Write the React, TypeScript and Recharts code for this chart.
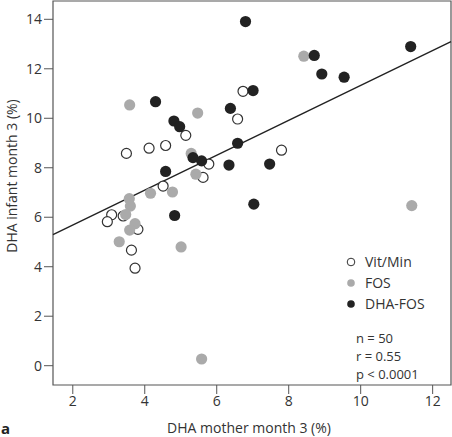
import {
  ScatterChart,
  Scatter,
  XAxis,
  YAxis,
  ReferenceLine,
  ReferenceArea,
  Legend,
} from "recharts";

const FONT = '"Open Sans", sans-serif';
const INK = "#333";
const FRAME = "#555";

// group values (DHA mother vs DHA infant, month 3, %)
const vitMinX = [6.73, 6.58, 5.14, 3.49, 4.12, 4.58, 5.78, 5.62, 4.51, 3.08, 2.96, 3.4, 3.81, 3.63, 3.73, 7.8];
const vitMinY = [11.09, 9.97, 9.31, 8.58, 8.79, 8.9, 8.15, 7.61, 7.26, 6.1, 5.82, 6.05, 5.51, 4.67, 3.94, 8.71];

const fosX = [3.58, 5.47, 5.29, 5.42, 4.16, 4.77, 8.42, 11.42, 3.57, 3.6, 3.47, 3.73, 3.58, 3.29, 5.01, 5.58];
const fosY = [10.54, 10.21, 8.58, 7.74, 6.97, 7.02, 12.51, 6.47, 6.75, 6.45, 6.11, 5.74, 5.48, 5.01, 4.8, 0.27];

const dhaFosX = [6.8, 7.01, 4.3, 6.38, 4.81, 4.97, 6.58, 5.34, 5.58, 6.34, 4.58, 8.71, 8.92, 9.54, 11.39, 7.47, 7.03, 4.83];
const dhaFosY = [13.91, 11.12, 10.67, 10.4, 9.89, 9.66, 8.99, 8.41, 8.28, 8.11, 7.85, 12.54, 11.79, 11.66, 12.9, 8.15, 6.53, 6.07];

const groupNames = ["Vit/Min", "FOS", "DHA-FOS"];
const xTicks = [2, 4, 6, 8, 10, 12];
const yTicks = [0, 2, 4, 6, 8, 10, 12, 14];
const xDomain = [1.45, 12.51];
const yDomain = [-0.78, 14.74];

// regression line
const fitIntercept = 4.27;
const fitSlope = 0.706;

const stats = ["n = 50", "r = 0.55", "p < 0.0001"];

const zip = (xs: number[], ys: number[]) => xs.map((x, i) => ({ x, y: ys[i] }));

const vitMin = zip(vitMinX, vitMinY);
const fos = zip(fosX, fosY);
const dhaFos = zip(dhaFosX, dhaFosY);

const styles: Record<string, { fill: string; stroke: string }> = {
  "Vit/Min": { fill: "#fff", stroke: "#333" },
  FOS: { fill: "#aaa", stroke: "none" },
  "DHA-FOS": { fill: "#222", stroke: "none" },
};

const dot = (name: string) => (props: any) => (
  <circle
    cx={props.cx}
    cy={props.cy}
    r={name === "Vit/Min" ? 5 : 5.6}
    fill={styles[name].fill}
    stroke={styles[name].stroke}
    strokeWidth={1.2}
  />
);

const LegendBox = (props: any) => {
  const items = groupNames.filter((n) =>
    (props.payload || []).some((p: any) => p.value === n)
  );
  return (
    <div style={{ fontFamily: FONT, fontSize: 14, color: INK }}>
      {items.map((name) => (
        <div
          key={name}
          style={{ display: "flex", alignItems: "center", height: 21 }}
        >
          <svg width={10} height={10} style={{ marginRight: 9 }}>
            <circle
              cx={5}
              cy={5}
              r={3.8}
              fill={styles[name].fill}
              stroke={styles[name].stroke}
              strokeWidth={1}
            />
          </svg>
          {name}
        </div>
      ))}
    </div>
  );
};

const tickStyle = { fontFamily: FONT, fontSize: 14, fill: INK };

export default function App() {
  const x0 = xDomain[0];
  const x1 = xDomain[1];
  return (
    <div style={{ position: "absolute", left: 0, top: 0, width: 452, height: 437, background: "#fff" }}>
      <ScatterChart
        width={452}
        height={437}
        margin={{ top: 1, right: 1, bottom: 0, left: 0 }}
      >
        <ReferenceArea
          x1={xDomain[0]}
          x2={xDomain[1]}
          y1={yDomain[0]}
          y2={yDomain[1]}
          fill="none"
          stroke={FRAME}
          strokeWidth={1.2}
          ifOverflow="visible"
        />
        <XAxis
          type="number"
          dataKey="x"
          domain={xDomain}
          ticks={xTicks}
          allowDataOverflow
          axisLine={false}
          tickSize={9}
          tickLine={{ stroke: FRAME }}
          tick={tickStyle}
          height={52}
          label={{
            value: "DHA mother month 3 (%)",
            position: "insideBottom",
            offset: 4,
            dx: -3,
            style: { fontFamily: FONT, fontSize: 14, fill: INK },
          }}
        />
        <YAxis
          type="number"
          dataKey="y"
          domain={yDomain}
          ticks={yTicks}
          allowDataOverflow
          axisLine={false}
          tickSize={9}
          tickLine={{ stroke: FRAME }}
          tick={tickStyle}
          width={53}
          label={{
            content: () => (
              <text
                x={11}
                y={176}
                transform="rotate(-90 11 176)"
                textAnchor="middle"
                dominantBaseline="central"
                style={{ fontFamily: FONT, fontSize: 14, fill: INK }}
              >
                DHA infant month 3 (%)
              </text>
            ),
          }}
        />
        <ReferenceLine
          segment={[
            { x: x0, y: fitIntercept + fitSlope * x0 },
            { x: x1, y: fitIntercept + fitSlope * x1 },
          ]}
          stroke="#222"
          strokeWidth={1.4}
        />
        <Scatter name="Vit/Min" data={vitMin} shape={dot("Vit/Min")} isAnimationActive={false} />
        <Scatter name="FOS" data={fos} shape={dot("FOS")} isAnimationActive={false} />
        <Scatter name="DHA-FOS" data={dhaFos} shape={dot("DHA-FOS")} isAnimationActive={false} />
        <Legend
          layout="vertical"
          align="center"
          verticalAlign="middle"
          content={LegendBox}
          wrapperStyle={{ position: "absolute", left: 346, top: 251, width: "auto" }}
        />
      </ScatterChart>
      <div
        style={{
          position: "absolute",
          left: 356,
          top: 329,
          fontFamily: FONT,
          fontSize: 13,
          lineHeight: "18px",
          color: INK,
        }}
      >
        {stats.map((s) => (
          <div key={s} style={{ height: 18 }}>{s}</div>
        ))}
      </div>
      <div
        style={{
          position: "absolute",
          left: 1,
          top: 418,
          fontFamily: FONT,
          fontSize: 15,
          fontWeight: 700,
          color: "#222",
        }}
      >
        a
      </div>
    </div>
  );
}
